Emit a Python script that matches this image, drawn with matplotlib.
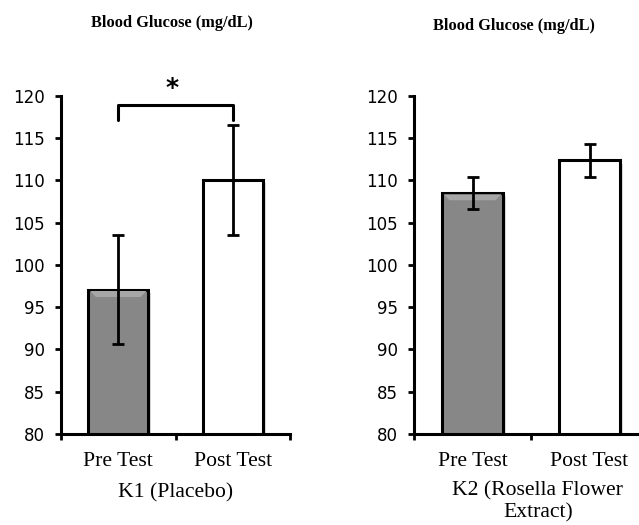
import matplotlib
matplotlib.use("Agg")
import matplotlib.pyplot as plt
import matplotlib.patheffects as pe
from matplotlib.patches import Polygon
from matplotlib.transforms import IdentityTransform
import numpy as np

# ---- data ----
categories = ["Pre Test", "Post Test"]
k1_means = [97.1, 110.1]
k1_err = [6.5, 6.5]
k2_means = [108.55, 112.4]
k2_err = [1.9, 1.95]
yticks = [80, 85, 90, 95, 100, 105, 110, 115, 120]
title_text = "Blood Glucose (mg/dL)"
group_labels = ["K1 (Placebo)", "K2 (Rosella Flower", "Extract)"]

bar_colors = ["#878787", "#ffffff"]

W, H = 639, 525
fig = plt.figure(figsize=(W / 100, H / 100), dpi=100)

def px_axes(x0, y_top, w, y_bot):
    return [x0 / W, 1 - y_bot / H, w / W, (y_bot - y_top) / H]

ax1 = fig.add_axes(px_axes(61, 96, 229, 434))
ax2 = fig.add_axes(px_axes(414, 96, 234, 434))

serif = "Liberation Serif"
tick_font = "DejaVu Sans"

def style(ax, means, errs):
    x = np.arange(len(categories))
    ax.set_xlim(-0.5, 1.5)
    ax.set_ylim(80, 120)
    bars = ax.bar(x, means, width=0.52, color=bar_colors, edgecolor="black",
                  linewidth=2.2, zorder=2)
    for b in bars:
        b.set_path_effects([pe.SimplePatchShadow(offset=(2.5, -2.5), shadow_rgbFace="#999999", alpha=0.35),
                            pe.Normal()])
    # bevel highlight on the grey bar (derived from the bar geometry)
    b = bars[0]
    (x0, _), (x1, y1) = ax.transData.transform([(b.get_x(), b.get_y()),
                                                (b.get_x() + b.get_width(), b.get_y() + b.get_height())])
    d = 6
    x0 += 1.5; x1 -= 1.5; y1 -= 1.5
    top = Polygon([(x0, y1), (x1, y1), (x1 - d, y1 - d), (x0 + d, y1 - d)], closed=True,
                  facecolor="#a6a6a6", edgecolor="none", transform=IdentityTransform(),
                  zorder=2.5, clip_on=False)
    ax.add_artist(top)
    ax.errorbar(x, means, yerr=errs, fmt="none", ecolor="black", elinewidth=2.0,
                capsize=4, capthick=2.0, zorder=3)
    ax.set_yticks(yticks)
    ax.set_yticklabels([str(t) for t in yticks], fontsize=12, family=tick_font)
    ax.set_xticks([-0.5, 0.5, 1.5])
    ax.set_xticklabels([])
    ax.tick_params(axis="y", direction="out", length=4.3, width=2, pad=7.5)
    ax.tick_params(axis="x", direction="out", length=4.3, width=2)
    for s in ["top", "right"]:
        ax.spines[s].set_visible(False)
    for s in ["left", "bottom"]:
        ax.spines[s].set_linewidth(2.2)
    for xi, lab in zip(x, categories):
        ax.text(xi, -0.082, lab, transform=ax.get_xaxis_transform(), ha="center",
                va="center", fontsize=15.6, family=serif)

style(ax1, k1_means, k1_err)
style(ax2, k2_means, k2_err)

# group labels
ax1.text(0.504, -0.1737, group_labels[0], transform=ax1.get_xaxis_transform(),
         ha="center", va="center", fontsize=15.6, family=serif)
ax2.text(0.556, -0.1687, group_labels[1], transform=ax2.get_xaxis_transform(),
         ha="center", va="center", fontsize=15.6, family=serif)
ax2.text(0.56, -0.2327, group_labels[2], transform=ax2.get_xaxis_transform(),
         ha="center", va="center", fontsize=15.6, family=serif)

# titles
fig.text(172 / W, 1 - 23 / H, title_text, ha="center", va="center",
         fontsize=11.8, fontweight="bold", family=serif)
fig.text(514 / W, 1 - 26 / H, title_text, ha="center", va="center",
         fontsize=11.8, fontweight="bold", family=serif)

# significance bracket
ax1.plot([0, 0, 1, 1], [117.2, 118.9, 118.9, 117.2], color="black", lw=2.2,
         clip_on=False, zorder=4, solid_joinstyle="round", solid_capstyle="round")
ax1.text(0.47, 120.9, "*", ha="center", va="center", fontsize=18,
         fontweight="bold", family="DejaVu Sans", clip_on=False)

fig.savefig("out.png", dpi=100)
